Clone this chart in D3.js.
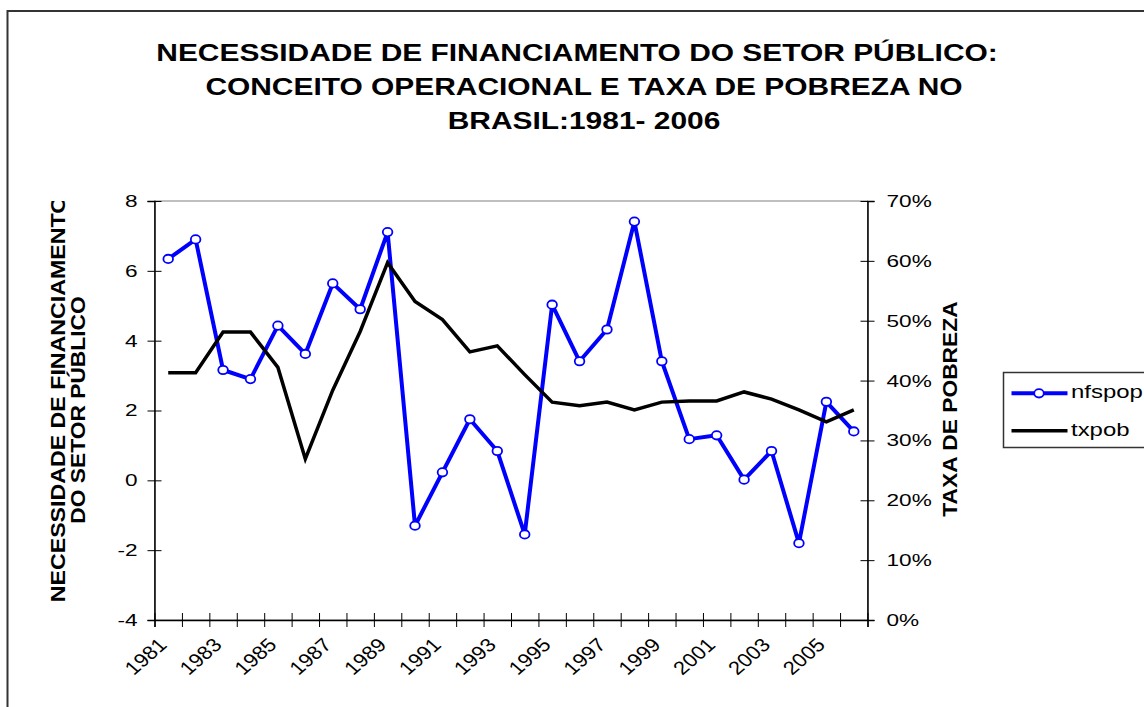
<!DOCTYPE html>
<html>
<head>
<meta charset="utf-8">
<script src="https://cdn.jsdelivr.net/npm/d3@7"></script>
<style>
  body { margin: 0; background: #fff; }
  svg { display: block; font-family: "Liberation Sans", Arial, sans-serif; }
</style>
</head>
<body>
<svg width="1144" height="707"></svg>
<script>
var years = ['1981','1982','1983','1984','1985','1986','1987','1988','1989','1990','1991','1992','1993',
             '1994','1995','1996','1997','1998','1999','2000','2001','2002','2003','2004','2005','2006'];
var nfspop = [6.34, 6.90, 3.16, 2.90, 4.43, 3.62, 5.64, 4.90, 7.11, -1.30, 0.23, 1.75, 0.84,
              -1.55, 5.03, 3.41, 4.32, 7.41, 3.41, 1.18, 1.29, 0.02, 0.84, -1.80, 2.25, 1.40];
var txpob = [0.413, 0.413, 0.481, 0.481, 0.422, 0.269, 0.384, 0.482, 0.597, 0.532, 0.502, 0.448, 0.458,
             0.410, 0.364, 0.358, 0.364, 0.351, 0.364, 0.366, 0.366, 0.381, 0.369, 0.351, 0.331, 0.351];
var leftTicks = [-4, -2, 0, 2, 4, 6, 8];
var rightTicks = [0, 0.1, 0.2, 0.3, 0.4, 0.5, 0.6, 0.7];
var xLabels = ['1981','1983','1985','1987','1989','1991','1993','1995','1997','1999','2001','2003','2005'];
var titleLines = ['NECESSIDADE DE FINANCIAMENTO DO SETOR PÚBLICO:',
                  'CONCEITO OPERACIONAL E TAXA DE POBREZA NO',
                  'BRASIL:1981- 2006'];
var series = ['nfspop', 'txpob'];

var svg = d3.select('svg');
var x0 = 154.5, x1 = 867.5, y0 = 201, y1 = 620;
var sx = 1.33;

var x = d3.scaleBand().domain(years).range([x0, x1]).padding(0);
var xEdge = d3.scaleLinear().domain([0, years.length]).range([x0, x1]);
var yL = d3.scaleLinear().domain([-4, 8]).range([y1, y0]);
var yR = d3.scaleLinear().domain([0, 0.7]).range([y1, y0]);
var cx = d => x(d) + x.bandwidth() / 2;

// outer chart border
svg.append('rect')
  .attr('x', 7.5).attr('y', 11)
  .attr('width', 1200).attr('height', 800)
  .attr('fill', 'none').attr('stroke', '#333').attr('stroke-width', 2);

// title
var titleCenters = [577, 584, 584];
var titleBase = [61, 95, 129];
titleLines.forEach((t, i) => {
  svg.append('text')
    .attr('transform', 'translate(' + titleCenters[i] + ',' + titleBase[i] + ') scale(1.247,1)')
    .attr('text-anchor', 'middle')
    .style('font-size', '24px').style('font-weight', 'bold')
    .text(t);
});

// plot area border
svg.append('rect')
  .attr('x', x0).attr('y', y0)
  .attr('width', x1 - x0).attr('height', y1 - y0)
  .attr('fill', 'none').attr('stroke', '#808080').attr('stroke-width', 1);

// left axis
var gL = svg.append('g')
  .attr('transform', 'translate(' + x0 + ',0)')
  .call(d3.axisLeft(yL).tickValues(leftTicks).tickFormat(d => String(d)).tickSize(7));
gL.select('.domain').attr('stroke', '#000').attr('stroke-width', 1.5);
gL.selectAll('.tick line').attr('x1', 7).attr('x2', -7).attr('stroke', '#000');
gL.selectAll('.tick text')
  .attr('x', null)
  .attr('transform', 'translate(-17,0) scale(' + sx + ',1)')
  .style('font-size', '17px').attr('fill', '#000');

// right axis
var gR = svg.append('g')
  .attr('transform', 'translate(' + x1 + ',0)')
  .call(d3.axisRight(yR).tickValues(rightTicks).tickFormat(d => Math.round(d * 100) + '%').tickSize(7));
gR.select('.domain').attr('stroke', '#000').attr('stroke-width', 1.5);
gR.selectAll('.tick line').attr('x1', -7).attr('x2', 7).attr('stroke', '#000');
gR.selectAll('.tick text')
  .attr('x', null)
  .attr('transform', 'translate(19,0) scale(' + sx + ',1)')
  .style('font-size', '17px').attr('fill', '#000');

// bottom axis: ticks on category edges
var gB = svg.append('g')
  .attr('transform', 'translate(0,' + y1 + ')')
  .call(d3.axisBottom(xEdge).tickValues(d3.range(years.length + 1)).tickFormat('').tickSize(7));
gB.select('.domain').attr('stroke', '#000').attr('stroke-width', 1.5);
gB.selectAll('.tick line').attr('y1', -7).attr('y2', 7).attr('stroke', '#000');

svg.append('g')
  .selectAll('text')
  .data(xLabels)
  .enter()
  .append('text')
    .attr('transform', d => 'translate(' + cx(d) + ',646) scale(1.15,1) rotate(-45)')
    .attr('text-anchor', 'end')
    .style('font-size', '19px')
    .text(d => d);

// axis titles
svg.append('clipPath').attr('id', 'clipTitle')
  .append('rect').attr('x', 0).attr('y', 201).attr('width', 150).attr('height', 500);
var leftTitle = svg.append('g').attr('clip-path', 'url(#clipTitle)');
[['NECESSIDADE DE FINANCIAMENTO', 64.5, 399, 1.16], ['DO SETOR PÚBLICO', 85, 410, 1.14]].forEach(l => {
  leftTitle.append('text')
    .attr('transform', 'translate(' + l[1] + ',' + l[2] + ') rotate(-90) scale(' + l[3] + ',1)')
    .attr('text-anchor', 'middle')
    .style('font-size', '20px').style('font-weight', 'bold')
    .text(l[0]);
});
svg.append('text')
  .attr('transform', 'translate(957,409) rotate(-90) scale(1.14,1)')
  .attr('text-anchor', 'middle')
  .style('font-size', '20px').style('font-weight', 'bold')
  .text('TAXA DE POBREZA');

// series
var lineL = d3.line().x((d, i) => cx(years[i])).y(d => yL(d));
var lineR = d3.line().x((d, i) => cx(years[i])).y(d => yR(d));

svg.append('path')
  .datum(nfspop)
  .attr('d', lineL)
  .attr('fill', 'none').attr('stroke', '#0000ff').attr('stroke-width', 4)
  .attr('stroke-linejoin', 'round');

svg.selectAll('ellipse.nfs')
  .data(nfspop)
  .enter()
  .append('ellipse')
    .attr('class', 'nfs')
    .attr('cx', (d, i) => cx(years[i]))
    .attr('cy', d => yL(d))
    .attr('rx', 4.8).attr('ry', 4.2)
    .attr('fill', '#fff').attr('stroke', '#0000ff').attr('stroke-width', 1.8);

svg.append('path')
  .datum(txpob)
  .attr('d', lineR)
  .attr('fill', 'none').attr('stroke', '#000').attr('stroke-width', 3.5)
  .attr('stroke-linejoin', 'miter');

// legend
var leg = svg.append('g');
leg.append('rect')
  .attr('x', 1003.5).attr('y', 372.5)
  .attr('width', 160).attr('height', 75)
  .attr('fill', '#fff').attr('stroke', '#333').attr('stroke-width', 1.5);
var legY = [393.3, 430.7];
series.forEach((s, i) => {
  leg.append('line')
    .attr('x1', 1011.5).attr('x2', 1067.5)
    .attr('y1', legY[i]).attr('y2', legY[i])
    .attr('stroke', i === 0 ? '#0000ff' : '#000')
    .attr('stroke-width', i === 0 ? 4 : 3.5);
  if (i === 0) {
    leg.append('ellipse')
      .attr('cx', 1039).attr('cy', legY[i])
      .attr('rx', 4.8).attr('ry', 4.2)
      .attr('fill', '#fff').attr('stroke', '#0000ff').attr('stroke-width', 1.8);
  }
  leg.append('text')
    .attr('transform', 'translate(1071,' + (legY[i] + 5) + ') scale(' + sx + ',1)')
    .style('font-size', '18px')
    .text(s);
});
</script>
</body>
</html>
